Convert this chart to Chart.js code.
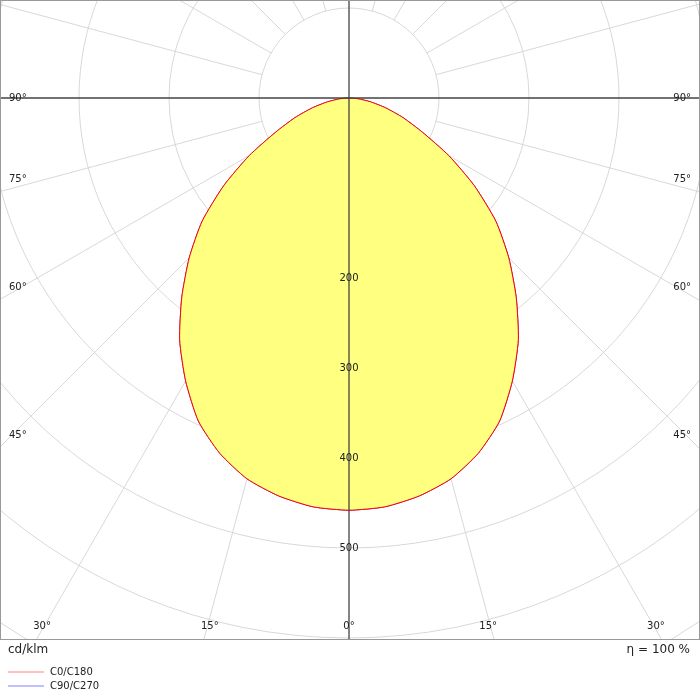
<!DOCTYPE html>
<html><head><meta charset="utf-8">
<script src="https://cdn.jsdelivr.net/npm/chart.js@4"></script>
<style>html,body{margin:0;padding:0;background:#fff}#c{display:block}</style>
</head><body>
<div style="width:700px;height:700px"><canvas id="c" width="700" height="700"></canvas></div>
<script>
const angles = [0,5,10,15,20,25,30,35,40,45,50,55,60,65,70,75,80,85,90];
const c0c180 = [458,456,449,438,420,396,363,328,289,251,213,170,128,90,64,42,24,10,0];
const c90c270 = [458,456,449,438,420,396,363,328,289,251,213,170,128,90,64,42,24,10,0];
const ringValues = [100,200,300,400,500,600,700,800];
const ringLabels = ['200','300','400','500'];
const angleLabels = ['90°','75°','60°','45°','30°','15°','0°'];
const seriesNames = ['C0/C180','C90/C270'];

function toXY(vals){
  const pts=[];
  for(let i=angles.length-1;i>=0;i--){const t=-angles[i]*Math.PI/180;pts.push({x:vals[i]*Math.sin(t),y:-vals[i]*Math.cos(t)});}
  for(let i=1;i<angles.length;i++){const t=angles[i]*Math.PI/180;pts.push({x:vals[i]*Math.sin(t),y:-vals[i]*Math.cos(t)});}
  return pts;
}
const gridPlugin={id:'grid',
 beforeDatasetsDraw(ch){
  const {ctx,chartArea:a,scales:{x,y}}=ch;
  const cx=x.getPixelForValue(0),cy=y.getPixelForValue(0),k=x.getPixelForValue(100)-cx;
  ctx.save();ctx.beginPath();ctx.rect(a.left,a.top,a.right-a.left,a.bottom-a.top);ctx.clip();
  ctx.strokeStyle='#d8d8d8';ctx.lineWidth=1;
  ringValues.forEach(v=>{ctx.beginPath();ctx.arc(cx,cy,v*k/100,0,Math.PI*2);ctx.stroke();});
  for(let d=0;d<360;d+=15){ if(d%90===0) continue;
    const t=d*Math.PI/180, r0=k, r1=2000;
    ctx.beginPath();ctx.moveTo(cx+r0*Math.sin(t),cy+r0*Math.cos(t));ctx.lineTo(cx+r1*Math.sin(t),cy+r1*Math.cos(t));ctx.stroke();}
  ctx.restore();
 },
 afterDatasetsDraw(ch){
  const {ctx,chartArea:a,scales:{x,y}}=ch;
  const cx=x.getPixelForValue(0),cy=y.getPixelForValue(0),k=x.getPixelForValue(100)-cx;
  ctx.save();
  ctx.strokeStyle='#444';ctx.lineWidth=1.3;
  ctx.beginPath();ctx.moveTo(a.left,cy);ctx.lineTo(a.right,cy);ctx.moveTo(cx,a.top);ctx.lineTo(cx,a.bottom);ctx.stroke();
  ctx.strokeStyle='#999';ctx.lineWidth=1;ctx.strokeRect(a.left+0.5,a.top+0.5,a.right-a.left-1,a.bottom-a.top-1);
  ctx.font='10px "DejaVu Sans", sans-serif';ctx.fillStyle='#222';ctx.textBaseline='middle';ctx.textAlign='center';
  ringLabels.forEach(l=>{ctx.fillText(l,cx,cy+(+l)*k/100);});
  const side=[[90,angleLabels[0]],[75,angleLabels[1]],[60,angleLabels[2]],[45,angleLabels[3]]];
  side.forEach(([d,l])=>{const yy=cy+(cx-a.left)/Math.tan(d*Math.PI/180)-12;
    ctx.textAlign='left';ctx.fillText(l,a.left+9,d===90?cy:yy);ctx.textAlign='right';ctx.fillText(l,a.right-9,d===90?cy:yy);});
  const bot=[[30,angleLabels[4]],[15,angleLabels[5]]];
  ctx.textAlign='center';
  bot.forEach(([d,l])=>{const dx=(a.bottom-cy)*Math.tan(d*Math.PI/180)-6;
    ctx.fillText(l,cx-dx,a.bottom-14);ctx.fillText(l,cx+dx,a.bottom-14);});
  ctx.fillText(angleLabels[6],cx,a.bottom-14);
  ctx.font='12px "DejaVu Sans", sans-serif';
  ctx.textAlign='left';ctx.fillText('cd/klm',8,a.bottom+10);
  ctx.textAlign='right';ctx.fillText('η = 100 %',690,a.bottom+10);
  ctx.font='10px "DejaVu Sans", sans-serif';ctx.textAlign='left';
  const cols=['#ff8080','#8080ff'];
  seriesNames.forEach((n,i)=>{const yy=a.bottom+32+i*14;ctx.strokeStyle=cols[i];ctx.beginPath();ctx.moveTo(8,yy);ctx.lineTo(44,yy);ctx.stroke();ctx.fillStyle='#222';ctx.fillText(n,50,yy);});
  ctx.restore();
 }};
new Chart(document.getElementById('c'),{
 type:'scatter',
 data:{datasets:[
  {label:seriesNames[0],data:toXY(c0c180),showLine:true,fill:'shape',backgroundColor:'#ffff80',borderColor:'#ff0000',borderWidth:1,pointRadius:0,tension:0.2},
  {label:seriesNames[1],data:toXY(c90c270),showLine:true,fill:false,borderColor:'#5a2ad0',borderWidth:1,pointRadius:0,tension:0.2}
 ]},
 options:{responsive:false,animation:false,layout:{padding:{left:0,right:0,top:0,bottom:60}},
  plugins:{legend:{display:false},tooltip:{enabled:false}},
  scales:{x:{type:'linear',min:-349/0.9,max:351/0.9,display:false},y:{type:'linear',min:-542/0.9,max:98/0.9,display:false}}},
 plugins:[gridPlugin]
});
</script></body></html>
